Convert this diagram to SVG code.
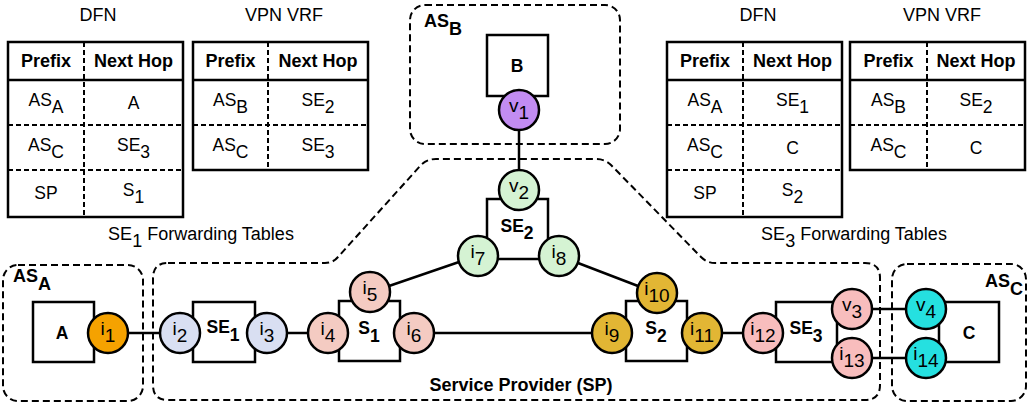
<svg xmlns="http://www.w3.org/2000/svg" width="1029" height="406" viewBox="0 0 1029 406">
<style>
text { font-family: "Liberation Sans", Arial, Helvetica, sans-serif; fill:#000; text-anchor:middle; }
.title { font-size:18px; }
.hd { font-size:18px; font-weight:bold; }
.cell { font-size:17.5px; }
.nl { font-size:19px; }
.bl { font-size:17.5px; font-weight:bold; }
.frame { fill:#fff; stroke:#000; stroke-width:2.5; }
.solid { stroke:#000; stroke-width:2.5; }
.grid { stroke:#000; stroke-width:2; stroke-dasharray:5 3; fill:none; }
.region { fill:none; stroke:#000; stroke-width:2; stroke-dasharray:7 4; }
.box { fill:#fff; stroke:#000; stroke-width:2.5; }
.nd { stroke:#000; stroke-width:2.5; }
.ln { stroke:#000; stroke-width:2.5; fill:none; }
.orange { fill:#F5A200; }
.lav { fill:#D9DFF2; }
.salmon { fill:#F4CBC2; }
.green { fill:#D5F3D3; }
.purple { fill:#C28CF2; }
.gold { fill:#E2B634; }
.pink { fill:#F8BDBD; }
.cyan { fill:#25E0E0; }
</style>

<!-- Regions -->
<g id="region-ASA">
<rect class="region" x="3" y="265" width="140" height="136" rx="15"/>
<text class="bl" x="32" y="282" style="font-size:18px">AS<tspan dy="8">A</tspan></text>
</g>
<g id="region-ASB">
<rect class="region" x="410" y="5" width="210" height="139" rx="15"/>
<text class="bl" x="443" y="27" style="font-size:18px">AS<tspan dy="8">B</tspan></text>
</g>
<g id="region-ASC">
<rect class="region" x="892" y="264" width="134" height="137" rx="15"/>
<text class="bl" x="1004" y="287" style="font-size:18px">AS<tspan dy="8">C</tspan></text>
</g>
<g id="region-SP">
<path class="region" d="M168,263 L325,263 Q333,263 338,257 L421,165 Q427,159 436,159 L596,159 Q605,159 611,165 L701,257 Q707,263 715,263 L865,263 Q880,263 880,278 L880,385 Q880,400 865,400 L168,400 Q153,400 153,385 L153,278 Q153,263 168,263 Z"/>
<text class="bl" x="521" y="391" style="font-size:18px">Service Provider (SP)</text>
</g>

<!-- Tables -->
<g id="table-SE1-DFN">
<text class="title" x="98" y="21">DFN</text>
<rect class="frame" x="8" y="42" width="175" height="175"/>
<line class="solid" x1="8" y1="80" x2="183" y2="80"/>
<line class="grid" x1="8" y1="125" x2="183" y2="125"/>
<line class="grid" x1="8" y1="170" x2="183" y2="170"/>
<line class="grid" x1="84" y1="42" x2="84" y2="217"/>
<text class="hd" x="46" y="67">Prefix</text>
<text class="hd" x="133.5" y="67">Next Hop</text>
<text class="cell" x="46" y="106">AS<tspan dy="7">A</tspan></text>
<text class="cell" x="133.5" y="109">A</text>
<text class="cell" x="46" y="151">AS<tspan dy="7">C</tspan></text>
<text class="cell" x="133.5" y="151">SE<tspan dy="7">3</tspan></text>
<text class="cell" x="46" y="199">SP</text>
<text class="cell" x="133.5" y="196">S<tspan dy="7">1</tspan></text>
</g>
<g id="table-SE1-VRF">
<text class="title" x="284" y="21">VPN VRF</text>
<rect class="frame" x="193" y="42" width="175" height="128"/>
<line class="solid" x1="193" y1="80" x2="368" y2="80"/>
<line class="grid" x1="193" y1="125" x2="368" y2="125"/>
<line class="grid" x1="268" y1="42" x2="268" y2="170"/>
<text class="hd" x="230.5" y="67">Prefix</text>
<text class="hd" x="318" y="67">Next Hop</text>
<text class="cell" x="230.5" y="106">AS<tspan dy="7">B</tspan></text>
<text class="cell" x="318" y="106">SE<tspan dy="7">2</tspan></text>
<text class="cell" x="230.5" y="151">AS<tspan dy="7">C</tspan></text>
<text class="cell" x="318" y="151">SE<tspan dy="7">3</tspan></text>
</g>
<text class="title" x="201" y="240">SE<tspan dy="7">1</tspan><tspan dy="-7"> Forwarding Tables</tspan></text>

<g id="table-SE3-DFN">
<text class="title" x="758" y="21">DFN</text>
<rect class="frame" x="667" y="42" width="175" height="175"/>
<line class="solid" x1="667" y1="80" x2="842" y2="80"/>
<line class="grid" x1="667" y1="125" x2="842" y2="125"/>
<line class="grid" x1="667" y1="170" x2="842" y2="170"/>
<line class="grid" x1="743" y1="42" x2="743" y2="217"/>
<text class="hd" x="705" y="67">Prefix</text>
<text class="hd" x="792.5" y="67">Next Hop</text>
<text class="cell" x="705" y="106">AS<tspan dy="7">A</tspan></text>
<text class="cell" x="792.5" y="106">SE<tspan dy="7">1</tspan></text>
<text class="cell" x="705" y="151">AS<tspan dy="7">C</tspan></text>
<text class="cell" x="792.5" y="154">C</text>
<text class="cell" x="705" y="199">SP</text>
<text class="cell" x="792.5" y="196">S<tspan dy="7">2</tspan></text>
</g>
<g id="table-SE3-VRF">
<text class="title" x="942" y="21">VPN VRF</text>
<rect class="frame" x="850" y="42" width="175" height="128"/>
<line class="solid" x1="850" y1="80" x2="1025" y2="80"/>
<line class="grid" x1="850" y1="125" x2="1025" y2="125"/>
<line class="grid" x1="927" y1="42" x2="927" y2="170"/>
<text class="hd" x="888.5" y="67">Prefix</text>
<text class="hd" x="976" y="67">Next Hop</text>
<text class="cell" x="888.5" y="106">AS<tspan dy="7">B</tspan></text>
<text class="cell" x="976" y="106">SE<tspan dy="7">2</tspan></text>
<text class="cell" x="888.5" y="151">AS<tspan dy="7">C</tspan></text>
<text class="cell" x="976" y="154">C</text>
</g>
<text class="title" x="854" y="240">SE<tspan dy="7">3</tspan><tspan dy="-7"> Forwarding Tables</tspan></text>

<!-- Connectors -->
<g id="connectors">
<line class="ln" x1="128" y1="333" x2="160" y2="333"/>
<line class="ln" x1="287" y1="333" x2="308" y2="333"/>
<line class="ln" x1="434" y1="333" x2="592" y2="333"/>
<line class="ln" x1="722" y1="333" x2="743" y2="333"/>
<line class="ln" x1="519" y1="130" x2="519" y2="170"/>
<line class="ln" x1="459" y1="262" x2="389" y2="286"/>
<line class="ln" x1="578" y1="263" x2="638" y2="286"/>
<line class="ln" x1="872" y1="309" x2="906" y2="309"/>
<line class="ln" x1="872" y1="358" x2="906" y2="358"/>
</g>

<!-- Routers -->
<g id="router-A">
<rect class="box" x="33" y="302" width="61" height="60"/>
<text class="bl" x="62" y="339">A</text>
</g>
<g id="router-B">
<rect class="box" x="487" y="35" width="61" height="61"/>
<text class="bl" x="517" y="72">B</text>
</g>
<g id="router-SE2">
<rect class="box" x="487" y="199" width="61" height="60"/>
<text class="bl" x="517" y="232">SE<tspan dy="7">2</tspan></text>
</g>
<g id="router-SE1">
<rect class="box" x="193" y="302" width="62" height="60"/>
<text class="bl" x="223" y="333">SE<tspan dy="8">1</tspan></text>
</g>
<g id="router-S1">
<rect class="box" x="339" y="301" width="61" height="60"/>
<text class="bl" x="369" y="334">S<tspan dy="8">1</tspan></text>
</g>
<g id="router-S2">
<rect class="box" x="626" y="301" width="61" height="60"/>
<text class="bl" x="656" y="334">S<tspan dy="8">2</tspan></text>
</g>
<g id="router-SE3">
<rect class="box" x="776" y="302" width="61" height="60"/>
<text class="bl" x="806" y="334">SE<tspan dy="8">3</tspan></text>
</g>
<g id="router-C">
<rect class="box" x="939" y="302" width="60" height="60"/>
<text class="bl" x="969" y="339">C</text>
</g>

<!-- Interfaces -->
<g id="if-i1"><circle class="nd orange" cx="108" cy="333" r="20"/><text class="nl" x="108" y="335">i<tspan dy="7">1</tspan></text></g>
<g id="if-i2"><circle class="nd lav" cx="180" cy="333" r="20"/><text class="nl" x="180" y="335">i<tspan dy="7">2</tspan></text></g>
<g id="if-i3"><circle class="nd lav" cx="267" cy="333" r="20"/><text class="nl" x="267" y="335">i<tspan dy="7">3</tspan></text></g>
<g id="if-i4"><circle class="nd salmon" cx="328" cy="333" r="20"/><text class="nl" x="328" y="335">i<tspan dy="7">4</tspan></text></g>
<g id="if-i5"><circle class="nd salmon" cx="370" cy="292" r="20"/><text class="nl" x="370" y="294">i<tspan dy="7">5</tspan></text></g>
<g id="if-i6"><circle class="nd salmon" cx="414" cy="333" r="20"/><text class="nl" x="414" y="335">i<tspan dy="7">6</tspan></text></g>
<g id="if-v1"><circle class="nd purple" cx="519" cy="110" r="20"/><text class="nl" x="519" y="112">v<tspan dy="7">1</tspan></text></g>
<g id="if-v2"><circle class="nd green" cx="519" cy="190" r="20"/><text class="nl" x="519" y="192">v<tspan dy="7">2</tspan></text></g>
<g id="if-i7"><circle class="nd green" cx="478" cy="256" r="20"/><text class="nl" x="478" y="258">i<tspan dy="7">7</tspan></text></g>
<g id="if-i8"><circle class="nd green" cx="559" cy="256" r="20"/><text class="nl" x="559" y="258">i<tspan dy="7">8</tspan></text></g>
<g id="if-i9"><circle class="nd gold" cx="612" cy="333" r="20"/><text class="nl" x="612" y="335">i<tspan dy="7">9</tspan></text></g>
<g id="if-i10"><circle class="nd gold" cx="657" cy="293" r="20"/><text class="nl" x="657" y="295">i<tspan dy="7">10</tspan></text></g>
<g id="if-i11"><circle class="nd gold" cx="702" cy="333" r="20"/><text class="nl" x="702" y="335">i<tspan dy="7">11</tspan></text></g>
<g id="if-i12"><circle class="nd pink" cx="763" cy="333" r="20"/><text class="nl" x="763" y="335">i<tspan dy="7">12</tspan></text></g>
<g id="if-v3"><circle class="nd pink" cx="852" cy="309" r="20"/><text class="nl" x="852" y="311">v<tspan dy="7">3</tspan></text></g>
<g id="if-i13"><circle class="nd pink" cx="852" cy="358" r="20"/><text class="nl" x="852" y="360">i<tspan dy="7">13</tspan></text></g>
<g id="if-v4"><circle class="nd cyan" cx="926" cy="309" r="20"/><text class="nl" x="926" y="311">v<tspan dy="7">4</tspan></text></g>
<g id="if-i14"><circle class="nd cyan" cx="926" cy="358" r="20"/><text class="nl" x="926" y="360">i<tspan dy="7">14</tspan></text></g>
</svg>
